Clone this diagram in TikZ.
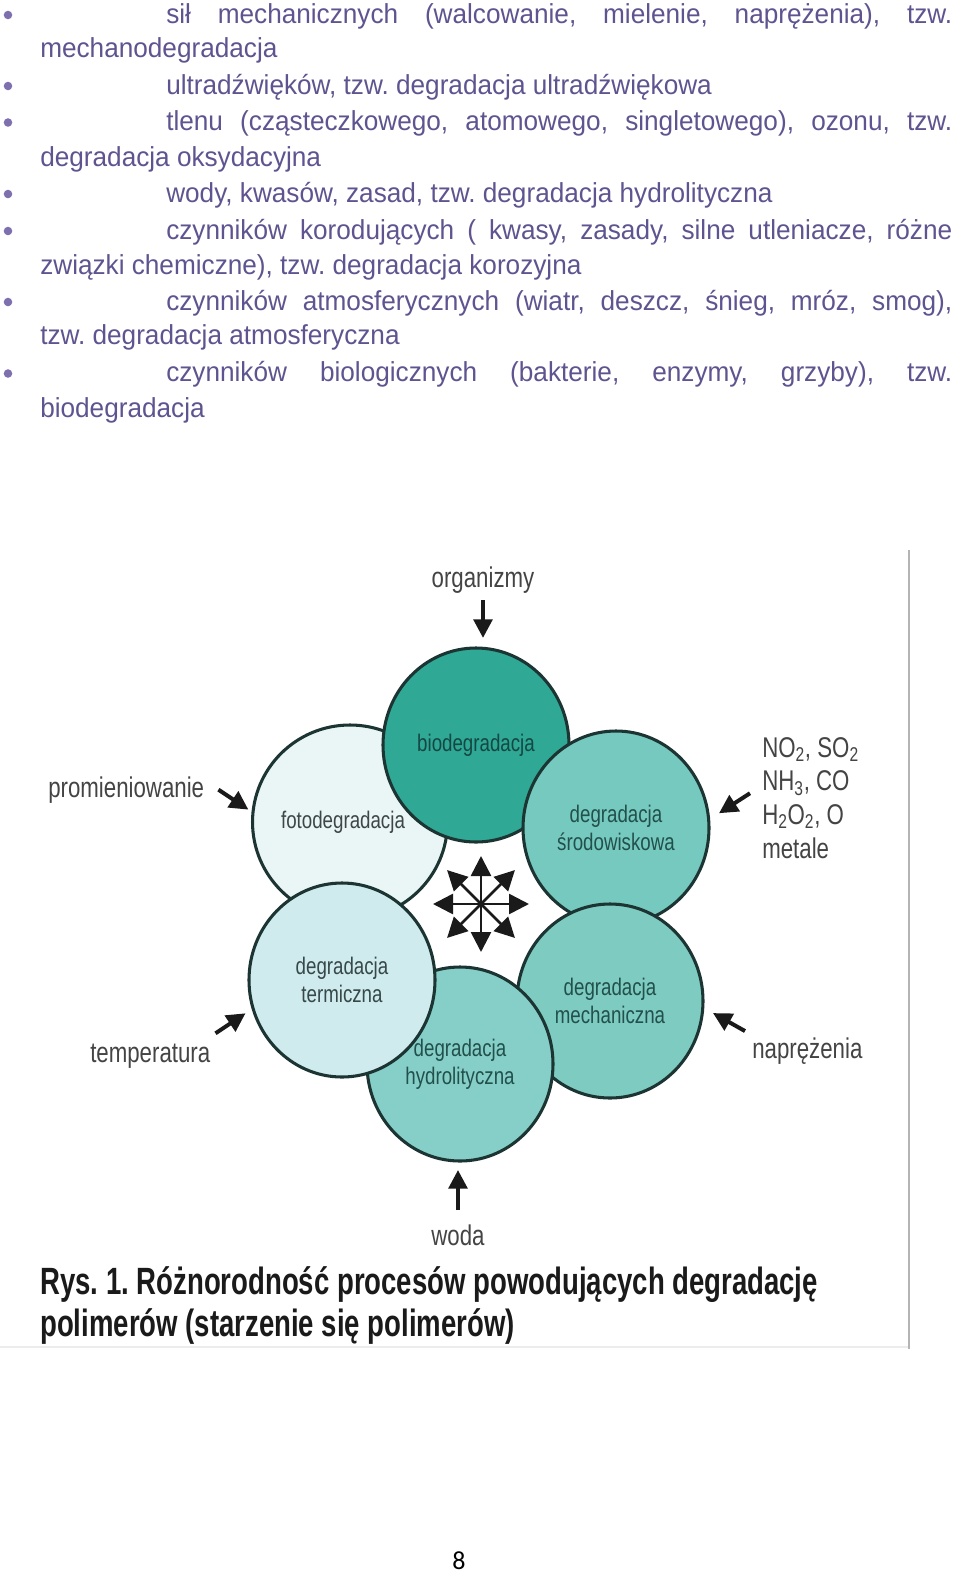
\documentclass[tikz,border=0pt]{standalone}
\usepackage{fontspec}
\setmainfont{Liberation Sans}
\newfontfamily\bodyfont[FakeStretch=0.953]{Liberation Sans}
\newfontfamily\condfont[FakeStretch=0.78]{Liberation Sans}
\newfontfamily\capfont[FakeStretch=0.725]{Liberation Sans Bold}
\newfontfamily\pagefont{Carlito}
\usetikzlibrary{arrows.meta,shapes.geometric}
\definecolor{bodytxt}{HTML}{5F5490}
\definecolor{bulletc}{HTML}{7E70AE}
\definecolor{circline}{HTML}{1C3533}
\definecolor{biofill}{HTML}{2FA896}
\definecolor{srodfill}{HTML}{76C9BF}
\definecolor{mechfill}{HTML}{7ECBC2}
\definecolor{hydfill}{HTML}{86CFC8}
\definecolor{termfill}{HTML}{CFEBEE}
\definecolor{fotofill}{HTML}{EAF5F6}
\definecolor{biotxt}{HTML}{154842}
\definecolor{midtxt}{HTML}{22504C}
\definecolor{termtxt}{HTML}{384848}
\definecolor{fototxt}{HTML}{3E4747}
\definecolor{labtxt}{HTML}{444444}
\definecolor{arrc}{HTML}{1A1A1A}
\definecolor{captxt}{HTML}{1A1A1A}
\definecolor{rulegray}{HTML}{B4B4B4}
\definecolor{faintgray}{HTML}{ECECEC}
\newcommand\jline[1]{\makebox[589.5pt][s]{#1}}
\begin{document}
\frenchspacing
\begin{tikzpicture}[x=0.75pt,y=-0.75pt,
  bodyline/.style={anchor=base west, inner sep=0, text=bodytxt, font=\bodyfont\fontsize{20.6pt}{24pt}\selectfont},
  circ/.style={ellipse, draw=circline, line width=2.3pt, minimum width=139.5pt, minimum height=145.5pt, inner sep=0, align=center, font=\condfont\fontsize{18pt}{21pt}\selectfont},
  lab/.style={inner sep=0, text=labtxt, font=\condfont\fontsize{21.4pt}{25.2pt}\selectfont},
  arr/.style={draw=arrc, line width=3pt, -{Triangle[length=14pt,width=14pt]}, arrc},
  stararr/.style={draw=arrc, line width=2pt, -{Triangle[length=15pt,width=15pt]}, arrc},
  capline/.style={anchor=base west, inner sep=0, text=captxt, font=\capfont\fontsize{28.5pt}{32pt}\selectfont}
]
\useasboundingbox (0,0) rectangle (960,1574);
\fill[white] (0,0) rectangle (960,1574);

% ---- bullet text ----
\foreach \yy in {15,86,122.5,194,231,302,373.5}
  \fill[bulletc] (8,\yy) circle[radius=3.2pt];
\node[bodyline] (l1) at (166,23) {\jline{sił mechanicznych (walcowanie, mielenie, naprężenia), tzw.}};
\node[bodyline] (l2) at (40,57) {mechanodegradacja};
\node[bodyline] (l3) at (166,94) {ultradźwięków, tzw. degradacja ultradźwiękowa};
\node[bodyline] (l4) at (166,130.5) {\jline{tlenu (cząsteczkowego, atomowego, singletowego), ozonu, tzw.}};
\node[bodyline] (l5) at (40,166) {degradacja oksydacyjna};
\node[bodyline] (l6) at (166,202) {wody, kwasów, zasad, tzw. degradacja hydrolityczna};
\node[bodyline] (l7) at (166,239) {\jline{czynników korodujących ( kwasy, zasady, silne utleniacze, różne}};
\node[bodyline] (l8) at (40,274) {związki chemiczne), tzw. degradacja korozyjna};
\node[bodyline] (l9) at (166,310) {\jline{czynników atmosferycznych (wiatr, deszcz, śnieg, mróz, smog),}};
\node[bodyline] (l10) at (40,344) {tzw. degradacja atmosferyczna};
\node[bodyline] (l11) at (166,381.5) {\jline{czynników biologicznych (bakterie, enzymy, grzyby), tzw.}};
\node[bodyline] (l12) at (40,417) {biodegradacja};

% ---- frame lines of the figure ----
\draw[faintgray, line width=1pt] (0,1347) -- (909,1347);
\draw[rulegray, line width=1.5pt] (909,550) -- (909,1349);

% ---- circles ----
\node[circ, fill=fotofill, text=fototxt] (foto) at (350,822) {fotodegradacja\hspace*{10.5pt}};
\node[circ, fill=biofill, text=biotxt] (bio) at (476,745) {biodegradacja};
\node[circ, fill=srodfill, text=midtxt] (srod) at (616,828) {degradacja\\środowiskowa};
\node[circ, fill=mechfill, text=midtxt] (mech) at (610,1001) {degradacja\\mechaniczna};
\node[circ, fill=hydfill, text=midtxt] (hyd) at (460,1064) {degradacja\\hydrolityczna};
\node[circ, fill=termfill, text=termtxt] (term) at (342,980) {degradacja\\termiczna};

% ---- central star ----
\coordinate (hub) at (481,904);
\foreach \a in {0,45,...,315}
  \draw[stararr] (hub) -- ++(\a:48);

% ---- outer labels ----
\node[lab, anchor=base] (org) at (483,587) {organizmy};
\node[lab, anchor=base west] (prom) at (48,797) {promieniowanie};
\node[lab, anchor=base west] (temp) at (90,1062) {temperatura};
\node[lab, anchor=base west] (nap) at (752,1058) {naprężenia};
\node[lab, anchor=base] (woda) at (458,1245) {woda};
\node[lab, anchor=north west, align=left] (chem) at (762,737)
  {NO\textsubscript{2}, SO\textsubscript{2}\\NH\textsubscript{3}, CO\\H\textsubscript{2}O\textsubscript{2}, O\\metale};

% ---- outer arrows ----
\draw[arr, shorten <=5.25pt, shorten >=6.4pt] (org.south) -- (org.south |- bio.north);
\draw[arr, shorten <=10.5pt, shorten >=5.6pt] (woda.north) -- (woda.north |- hyd.south);
\draw[arr] ([xshift=10.5pt]prom.east) -- ++(30,20);
\draw[arr] ([xshift=3.75pt,yshift=7.5pt]temp.north east) -- ++(30,-20);
\draw[arr] ([xshift=-5.25pt,yshift=4.5pt]nap.north west) -- ++(-32,-18);
\draw[arr] ([xshift=-9pt,yshift=3.4pt]chem.west) -- ++(-31,20);

% ---- caption ----
\node[capline] (cap1) at (40,1294) {Rys. 1. Różnorodność procesów powodujących degradację};
\node[capline] (cap2) at (40,1336) {polimerów (starzenie się polimerów)};

% ---- page number ----
\node[anchor=base, inner sep=0, font=\pagefont\fontsize{19.5pt}{20pt}\selectfont] (pg) at (459,1569) {8};
\end{tikzpicture}
\end{document}
